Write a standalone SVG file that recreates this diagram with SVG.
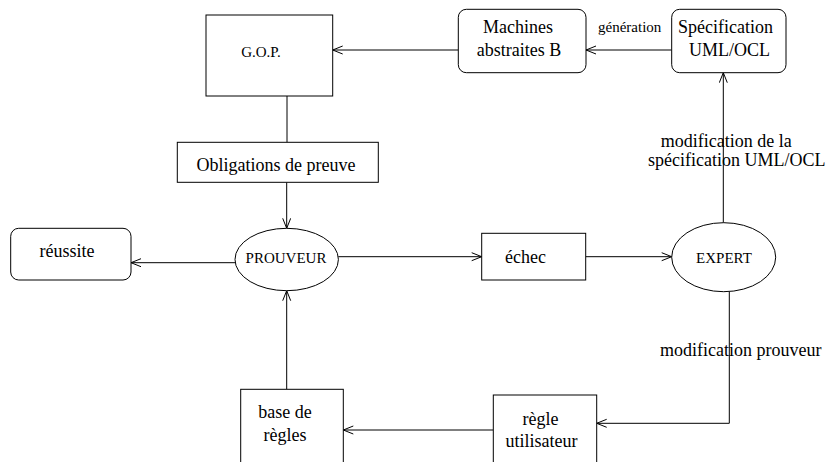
<svg xmlns="http://www.w3.org/2000/svg" width="829" height="462" viewBox="0 0 829 462">
<style>
.box{fill:#fff;stroke:#000;stroke-width:1}
.ln{fill:none;stroke:#000;stroke-width:1}
.arr{marker-end:url(#ah)}
text{font-family:"Liberation Serif","Times New Roman",serif;fill:#000;font-size:18px}
.s{font-size:15px}
.m{text-anchor:middle}
</style>
<defs>
<marker id="ah" markerUnits="userSpaceOnUse" markerWidth="12" markerHeight="10" refX="11" refY="4.5" orient="auto">
<path d="M1,0.5 L11,4.5 L1,8.5" fill="none" stroke="#000" stroke-width="1"/>
</marker>
</defs>
<rect width="829" height="462" fill="#fff"/>
<g id="connectors">
<line class="ln arr" x1="671.7" y1="50" x2="586" y2="50"/>
<line class="ln arr" x1="458.3" y1="50" x2="332.7" y2="50"/>
<line class="ln" x1="287" y1="96" x2="287" y2="142.3"/>
<line class="ln arr" x1="286.7" y1="182.3" x2="286.7" y2="228.3"/>
<line class="ln arr" x1="235.3" y1="262.7" x2="131" y2="262.7"/>
<line class="ln arr" x1="338.2" y1="256.7" x2="481.7" y2="256.7"/>
<line class="ln arr" x1="585.7" y1="256.7" x2="671.7" y2="256.7"/>
<line class="ln arr" x1="723.3" y1="222.7" x2="723.3" y2="72.7"/>
<polyline class="ln arr" points="729.3,291.5 729.3,423.3 596.7,423.3"/>
<line class="ln arr" x1="493.3" y1="430" x2="343.3" y2="430"/>
<line class="ln arr" x1="286.7" y1="389.3" x2="286.7" y2="290.7"/>
<text x="598" y="32.3" class="s">génération</text>
<text x="660.7" y="147.3">modification de la</text>
<text x="648" y="165.7">spécification UML/OCL</text>
<text x="660" y="356">modification prouveur</text>
</g>
<g id="gop">
<rect class="box" x="206" y="15" width="126.7" height="81"/>
<text x="261" y="56.7" class="s m">G.O.P.</text>
</g>
<g id="machines">
<rect class="box" x="458.3" y="9.3" width="127.7" height="63.4" rx="8" ry="8"/>
<text x="518" y="32.7" class="m">Machines</text>
<text x="519" y="56" class="m">abstraites B</text>
</g>
<g id="specification">
<rect class="box" x="671.7" y="9.3" width="114.3" height="63.4" rx="8" ry="8"/>
<text x="725.5" y="33" class="m">Spécification</text>
<text x="729.5" y="56" class="m">UML/OCL</text>
</g>
<g id="obligations">
<rect class="box" x="177.3" y="142.3" width="201" height="40"/>
<text x="276" y="171" class="m">Obligations de preuve</text>
</g>
<g id="reussite">
<rect class="box" x="10.7" y="228.3" width="120.3" height="51.7" rx="8" ry="8"/>
<text x="67" y="257" class="m">réussite</text>
</g>
<g id="prouveur">
<ellipse class="box" cx="286.7" cy="259.5" rx="51.7" ry="31.2"/>
<text x="286" y="263.3" class="s m">PROUVEUR</text>
</g>
<g id="echec">
<rect class="box" x="481.7" y="233.3" width="104" height="46.7"/>
<text x="525.5" y="262.7" class="m">échec</text>
</g>
<g id="expert">
<ellipse class="box" cx="723.7" cy="257.2" rx="52" ry="34.5"/>
<text x="724" y="263.3" class="s m">EXPERT</text>
</g>
<g id="base">
<rect class="box" x="240.7" y="389.3" width="102.6" height="90"/>
<text x="285" y="418.3" class="m">base de</text>
<text x="285" y="441" class="m">règles</text>
</g>
<g id="regle">
<rect class="box" x="493.3" y="395" width="103.4" height="90"/>
<text x="540.5" y="425" class="m">règle</text>
<text x="541.5" y="447.3" class="m">utilisateur</text>
</g>
</svg>
